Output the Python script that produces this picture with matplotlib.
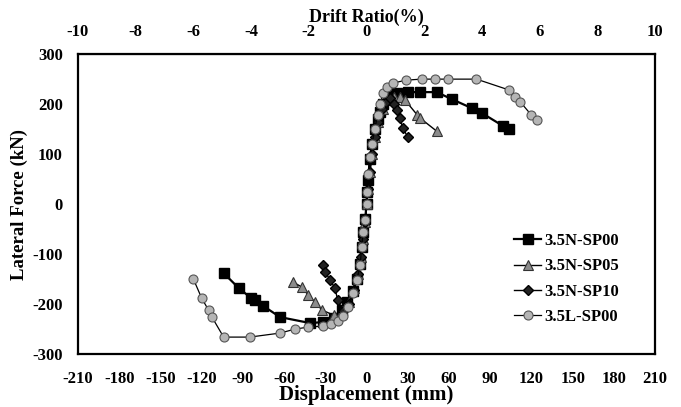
import numpy as np
import matplotlib.pyplot as plt

plt.rcParams['font.family'] = ['Liberation Serif', 'DejaVu Serif']
plt.rcParams['font.weight'] = 'bold'
plt.rcParams['axes.labelweight'] = 'bold'
plt.rcParams['axes.unicode_minus'] = False

# Data: displacement (mm), lateral force (kN)
sp00_x = [-104, -93, -84, -81, -75, -63, -41, -32, -24, -18, -14, -10, -7,
          -5, -3.5, -2.5, -1, 0, 0.3, 1, 2.5, 4, 6, 8, 10, 12, 15.6, 18.5,
          22, 30, 39, 51, 62, 76.5, 84, 99.5, 104]
sp00_y = [-138, -168, -188, -192, -204, -226, -238, -236, -228, -212, -196,
          -174, -150, -120, -85, -56, -30, 0, 24, 48, 90, 120, 150, 170, 185,
          200, 212, 218, 222, 224, 224, 224, 210, 192, 182, 156, 150]

sp05_x = [-53.5, -47, -42.5, -37.5, -32.4, -24, -18, -13, -9, -6, -4, -2.5,
          -1, 0, 1, 2.5, 4, 6, 8.5, 12, 16, 20, 24, 28, 37, 39, 51]
sp05_y = [-156, -166, -182, -196, -212, -222, -214, -196, -168, -140, -105,
          -70, -35, 0, 30, 65, 100, 135, 165, 190, 208, 215, 214, 208, 178,
          172, 146]

sp10_x = [-32, -30, -26.5, -23, -21, -17, -13, -9, -6, -4, -2.5, -1, 0, 1,
          2.5, 4, 6, 8.5, 11, 14, 17, 20, 22, 24, 26.5, 30]
sp10_y = [-122, -136, -152, -168, -192, -214, -200, -172, -140, -105, -70,
          -35, 0, 30, 65, 100, 135, 165, 190, 205, 212, 200, 188, 172, 152,
          134]

l00_x = [-126, -120, -115, -112.5, -104, -85, -63, -52, -42.5, -32, -26,
         -21, -17, -13.5, -9.8, -7, -4.7, -3.5, -2.5, -1, 0, 0.3, 1, 2.5, 4,
         6, 8, 10, 12, 15, 19, 29, 40, 50, 59, 80, 104, 108, 112, 120, 124]
l00_y = [-150, -188, -212, -226, -266, -266, -258, -250, -246, -244, -240,
         -234, -224, -206, -178, -152, -122, -85, -56, -32, 0, 24, 60, 95,
         120, 150, 178, 200, 222, 235, 242, 248, 250, 250, 250, 250, 228, 214,
         204, 178, 168]

labels = ['3.5N-SP00', '3.5N-SP05', '3.5N-SP10', '3.5L-SP00']
x_ticks = np.arange(-210, 211, 30)
y_ticks = np.arange(-300, 301, 100)
drift_ticks = np.arange(-10, 11, 2)

fig = plt.figure(figsize=(6.81, 4.07), dpi=100)
ax = fig.add_axes([0.1145, 0.130, 0.8475, 0.737])

ax.plot(sp00_x, sp00_y, '-s', color='k', lw=1.6, ms=7.5, mfc='k', mec='k',
        label=labels[0])
ax.plot(sp05_x, sp05_y, '-^', color='k', lw=1.0, ms=7, mfc='#8c8c8c',
        mec='#333333', mew=0.8, label=labels[1])
ax.plot(sp10_x, sp10_y, '-D', color='k', lw=1.0, ms=5.5, mfc='#222222',
        mec='k', label=labels[2])
ax.plot(l00_x, l00_y, '-o', color='k', lw=0.9, ms=6.5, mfc='#b5b5b5',
        mec='#555555', mew=0.8, label=labels[3])

ax.set_xlim(-210, 210)
ax.set_ylim(-300, 300)
ax.set_xticks(x_ticks)
ax.set_yticks(y_ticks)
ax.set_xticklabels([str(v) for v in x_ticks], fontweight='bold')
ax.set_yticklabels([str(v) for v in y_ticks], fontweight='bold')
ax.tick_params(axis='both', length=0, labelsize=12)
ax.tick_params(axis='x', pad=12)
ax.tick_params(axis='y', pad=11)
for s in ax.spines.values():
    s.set_linewidth(1.6)

ax.set_xlabel('Displacement (mm)', fontsize=15, labelpad=-1)
ax.set_ylabel('Lateral Force (kN)', fontsize=13.5, labelpad=3)

# Drift ratio on the top axis (210 mm = 10 %)
top = ax.secondary_xaxis('top', functions=(lambda x: x / 21.0,
                                           lambda d: d * 21.0))
top.set_xticks(drift_ticks)
top.set_xticklabels([str(v) for v in drift_ticks], fontweight='bold')
top.tick_params(length=0, labelsize=12, pad=10)
top.set_xlabel('Drift Ratio(%)', fontsize=13, fontweight='bold', labelpad=2)

ax.legend(loc='lower right', bbox_to_anchor=(0.952, 0.07), frameon=False,
          prop={'size': 12, 'weight': 'bold'}, handlelength=1.6,
          handletextpad=0.2, labelspacing=0.55, borderpad=0)

fig.savefig('out.png', dpi=100)
